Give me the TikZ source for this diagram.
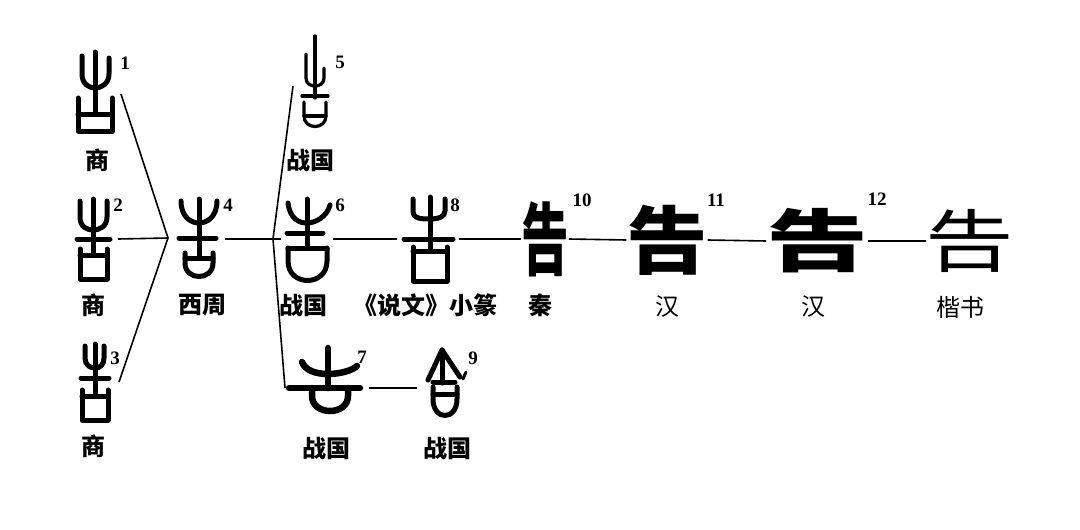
\documentclass[tikz,border=0pt]{standalone}
\usepackage{fontspec}
\newfontfamily\cjk{Noto Sans CJK SC}
\newfontfamily\numfont{Liberation Serif}
\usetikzlibrary{positioning}

\tikzset{
  glyph/.style={inner sep=0pt, outer sep=0pt},
  inkline/.style={line width=5pt, line cap=round, line join=round},
  era/.style={font=\cjk\bfseries\fontsize{24}{24}\selectfont, inner sep=0pt},
  idx/.style={font=\numfont\bfseries\fontsize{19}{19}\selectfont, inner sep=0pt},
  wire/.style={line width=1.6pt}
}

\begin{document}
\begin{tikzpicture}[x=1pt, y=-1pt]
\useasboundingbox (0,0) rectangle (1080,530);

% glyph boxes
\node[glyph, minimum width=50pt, minimum height=84pt] (g1) at (96,94) {};
\node[glyph, minimum width=48pt, minimum height=84pt] (g2) at (94,239) {};
\node[glyph, minimum width=48pt, minimum height=78pt] (g3) at (95,382) {};
\node[glyph, minimum width=52pt, minimum height=84pt] (g4) at (199,239) {};
\node[glyph, minimum width=44pt, minimum height=100pt] (g5) at (315,86) {};
\node[glyph, minimum width=52pt, minimum height=84pt] (g6) at (307,239) {};
\node[glyph, minimum width=84pt, minimum height=64pt] (g7) at (327,388) {};
\node[glyph, minimum width=62pt, minimum height=84pt] (g8) at (428,239) {};
\node[glyph, minimum width=56pt, minimum height=70pt] (g9) at (445,388) {};
\node[glyph, font=\cjk\bfseries\fontsize{66}{66}\selectfont] (g10) at (545,239) {\scalebox{0.72}[1.2]{告}};
\node[glyph, font=\cjk\bfseries\fontsize{74}{74}\selectfont] (g11) at (667,240) {\scalebox{1.1}[1.0]{告}};
\node[glyph, font=\cjk\bfseries\fontsize{68}{68}\selectfont] (g12) at (817,241) {\scalebox{1.5}[1.0]{告}};
\node[glyph, font=\cjk\fontsize{68}{68}\selectfont] (g13) at (970,241) {\scalebox{1.3}[1.0]{告}};

% 商
\begin{scope}[shift={(g1.center)}]
  \draw[inkline] (-14,-38) -- (-14,-20) .. controls (-14,-10) and (-7,-6) .. (-1,-6) .. controls (5,-6) and (13,-10) .. (13,-20) -- (13,-36);
  \draw[inkline] (-1,-42) -- (-1,20);
  \draw[inkline] (-18,4) -- (-18,37) -- (16,37) -- (16,4);
  \draw[inkline] (-18,20) -- (16,20);
\end{scope}
\begin{scope}[shift={(g2.center)}]
  \draw[inkline] (-14,-38) -- (-14,-22) .. controls (-14,-12) and (-7,-9) .. (-1,-9) .. controls (5,-9) and (13,-12) .. (13,-22) -- (13,-38);
  \draw[inkline] (-1,-40) -- (-1,16);
  \draw[inkline] (-17,0) -- (16,0);
  \draw[inkline] (-14,10) -- (-14,40) -- (13,40) -- (13,10);
  \draw[inkline] (-14,16) -- (13,16);
\end{scope}
\begin{scope}[shift={(g3.center)}]
  \draw[inkline] (-10,-36) -- (-10,-24) .. controls (-10,-17) and (-5,-14) .. (0,-14) .. controls (5,-14) and (9,-17) .. (9,-24) -- (9,-36);
  \draw[inkline] (0,-38) -- (0,14);
  \draw[inkline] (-14,-4) -- (14,-4);
  \draw[inkline] (-13,8) -- (-13,38) -- (13,38) -- (13,8);
  \draw[inkline] (-13,14) -- (13,14);
\end{scope}
% 西周
\begin{scope}[shift={(g4.center)}]
  \draw[inkline] (-18,-38) .. controls (-18,-22) and (-8,-16) .. (0,-16) .. controls (8,-16) and (18,-22) .. (18,-38);
  \draw[inkline] (0,-40) -- (0,19);
  \draw[inkline] (-20,-1) -- (17,-1);
  \draw[inkline] (-14,14) -- (-14,24) .. controls (-14,42) and (14,42) .. (14,24) -- (14,14);
  \draw[inkline] (-14,19) -- (14,19);
\end{scope}
% 战国
\begin{scope}[shift={(g5.center)}, inkline/.append style={line width=3.2pt}]
  \draw[inkline] (0,-50) -- (0,12);
  \draw[inkline] (-9,-32) -- (-9,-8) .. controls (-9,-2) and (-4,0) .. (0,0);
  \draw[inkline] (9,-18) -- (9,-8) .. controls (9,-2) and (4,0) .. (0,0);
  \draw[inkline] (-13,10) -- (13,10);
  \draw[inkline] (-11,16) -- (-11,30) .. controls (-11,44) and (11,44) .. (11,30) -- (11,16);
  \draw[inkline] (-11,30) -- (11,30);
\end{scope}
\begin{scope}[shift={(g6.center)}]
  \draw[inkline] (-19,-36) .. controls (-17,-20) and (-8,-16) .. (0,-16) .. controls (8,-16) and (20,-22) .. (23,-34);
  \draw[inkline] (0,-40) -- (0,9);
  \draw[inkline] (-20,-6) -- (16,-6);
  \draw[inkline] (-19,9) -- (-19,22) .. controls (-19,48) and (20,48) .. (20,22) -- (20,9);
  \draw[inkline] (-19,9) -- (20,9);
\end{scope}
\begin{scope}[shift={(g7.center)}, inkline/.append style={line width=6.5pt}]
  \draw[inkline] (1,-40) -- (1,0);
  \draw[inkline] (-25,-26) .. controls (-22,-18) and (-12,-14) .. (1,-14) .. controls (14,-14) and (26,-18) .. (30,-22);
  \draw[inkline] (-38,0) -- (33,0);
  \draw[inkline] (-15,0) -- (-15,8) .. controls (-15,28) and (21,28) .. (21,8) -- (21,0);
\end{scope}
% 《说文》小篆
\begin{scope}[shift={(g8.center)}]
  \draw[inkline] (-15,-40) -- (-15,-28) .. controls (-15,-20) and (-6,-20) .. (2,-20) .. controls (10,-20) and (17,-22) .. (17,-28) -- (17,-40);
  \draw[inkline] (2,-42) -- (2,10);
  \draw[inkline] (-24,0) -- (25,0);
  \draw[inkline] (-15,8) -- (-15,42) -- (19,42) -- (19,8);
  \draw[inkline] (-15,12) -- (19,12);
\end{scope}
\begin{scope}[shift={(g9.center)}]
  \draw[inkline] (-17,-8) -- (-3,-38) -- (15,-11);
  \draw[inkline] (-3,-38) -- (-3,-5);
  \draw[inkline] (-12,-6) -- (10,-6);
  \draw[inkline] (-12,-1) -- (-12,11) .. controls (-12,33) and (12,33) .. (12,11) -- (12,-1);
  \draw[inkline] (-12,6) -- (12,6);
  \draw[inkline, line width=3pt] (21,-16) -- (18,-9);
\end{scope}

% connectors
\coordinate (j1) at (168,238);
\coordinate (j2) at (273,239);
\draw[wire] (g1.east) -- (j1);
\draw[wire] (g2.east) -- (j1);
\draw[wire] (g3.east) -- (j1);
\draw[wire] (g4.east) -- (g6.west);
\draw[wire] (j2) -- (g5.west);
\draw[wire] (j2) -- (g7.west);
\draw[wire] (g6.east) -- (g8.west);
\draw[wire] (g8.east) -- (g10.west);
\draw[wire] (g10.east) -- (g11.west);
\draw[wire] (g11.east) -- (g12.west);
\draw[wire] (g12.east) -- (g13.west);
\draw[wire] (g7.east) -- (g9.west);

% numbers
\node[idx] (n1) at (125,63) {1};
\node[idx] (n2) at (118,205) {2};
\node[idx] (n3) at (115,358) {3};
\node[idx] (n4) at (228,205) {4};
\node[idx] (n5) at (340,62) {5};
\node[idx] (n6) at (340,205) {6};
\node[idx] (n7) at (362,357) {7};
\node[idx] (n8) at (455,205) {8};
\node[idx] (n9) at (473,358) {9};
\node[idx] (n10) at (582,200) {10};
\node[idx] (n11) at (716,200) {11};
\node[idx] (n12) at (877,199) {12};

% periods
\node[era] (lab1) at (97,160) {商};
\node[era] (lab2) at (93,305) {商};
\node[era] (lab3) at (93,446) {商};
\node[era] (lab4) at (202,305) {西周};
\node[era] (lab5) at (310,160) {战国};
\node[era] (lab6) at (303,305) {战国};
\node[era] (lab7) at (326,448) {战国};
\node[era] (lab8) at (425,305) {《说文》小篆};
\node[era] (lab9) at (447,448) {战国};
\node[era] (lab10) at (540,305) {秦};
\node[era, font=\cjk\fontsize{24}{24}\selectfont] (lab11) at (667,307) {汉};
\node[era, font=\cjk\fontsize{24}{24}\selectfont] (lab12) at (813,307) {汉};
\node[era, font=\cjk\fontsize{24}{24}\selectfont] (lab13) at (960,307) {楷书};
\end{tikzpicture}
\end{document}
